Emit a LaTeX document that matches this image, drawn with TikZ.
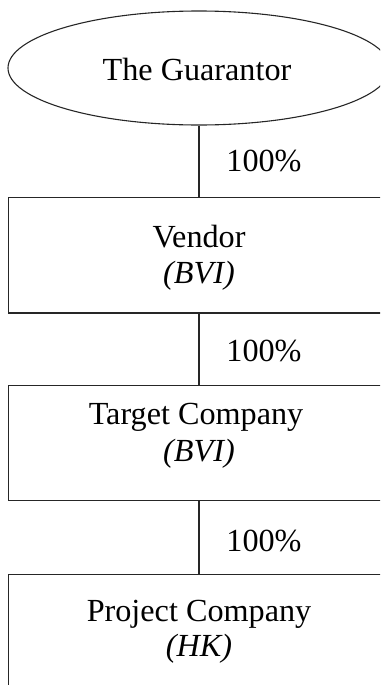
\documentclass[tikz,border=0pt]{standalone}
\usepackage{fontspec}
\setmainfont{Liberation Serif}
\usetikzlibrary{shapes.geometric}

\tikzset{
  ink/.style={draw=black!85, line width=0.55pt},
  owner/.style={ink, ellipse, minimum width=191pt, minimum height=57pt, inner sep=0pt},
  entity/.style={ink, rectangle, minimum width=190.3pt, minimum height=57.6pt, inner sep=0pt},
  txt/.style={anchor=base, inner sep=0pt, font=\fontsize{16.1pt}{18.5pt}\selectfont},
  juris/.style={txt, font=\fontsize{16.1pt}{18.5pt}\selectfont\itshape},
  link/.style={ink},
}

\begin{document}
\begin{tikzpicture}[x=0.5pt, y=-0.5pt]
  \useasboundingbox (0,0) rectangle (380,685);
  \clip (0,0) rectangle (380,685);

  % shareholding chain
  \node[owner]  (guarantor) at (199,68)    {};
  \node[entity] (vendor)    at (199,255.4) {};
  \node[entity] (target)    at (199,443.3) {};
  \node[entity] (project)   at (199,631.7) {};

  % names and places of incorporation
  \node[txt]   (guarantorname) at (197,80)  {The Guarantor};
  \node[txt]   (vendorname)    at (199,247) {Vendor};
  \node[juris] (vendorplace)   at (199,283) {(BVI)};
  \node[txt]   (targetname)    at (196,424) {Target Company};
  \node[juris] (targetplace)   at (199,461) {(BVI)};
  \node[txt]   (projectname)   at (199,621) {Project Company};
  \node[juris] (projectplace)  at (199,656) {(HK)};

  % ownership links
  \draw[link] (guarantor.south) -- (vendor.north);
  \draw[link] (vendor.south) -- (target.north);
  \draw[link] (target.south) -- (project.north);

  % percentages held
  \node[txt] (pct1) at (264,171) {100\%};
  \node[txt] (pct2) at (264,361) {100\%};
  \node[txt] (pct3) at (264,551) {100\%};
\end{tikzpicture}
\end{document}
